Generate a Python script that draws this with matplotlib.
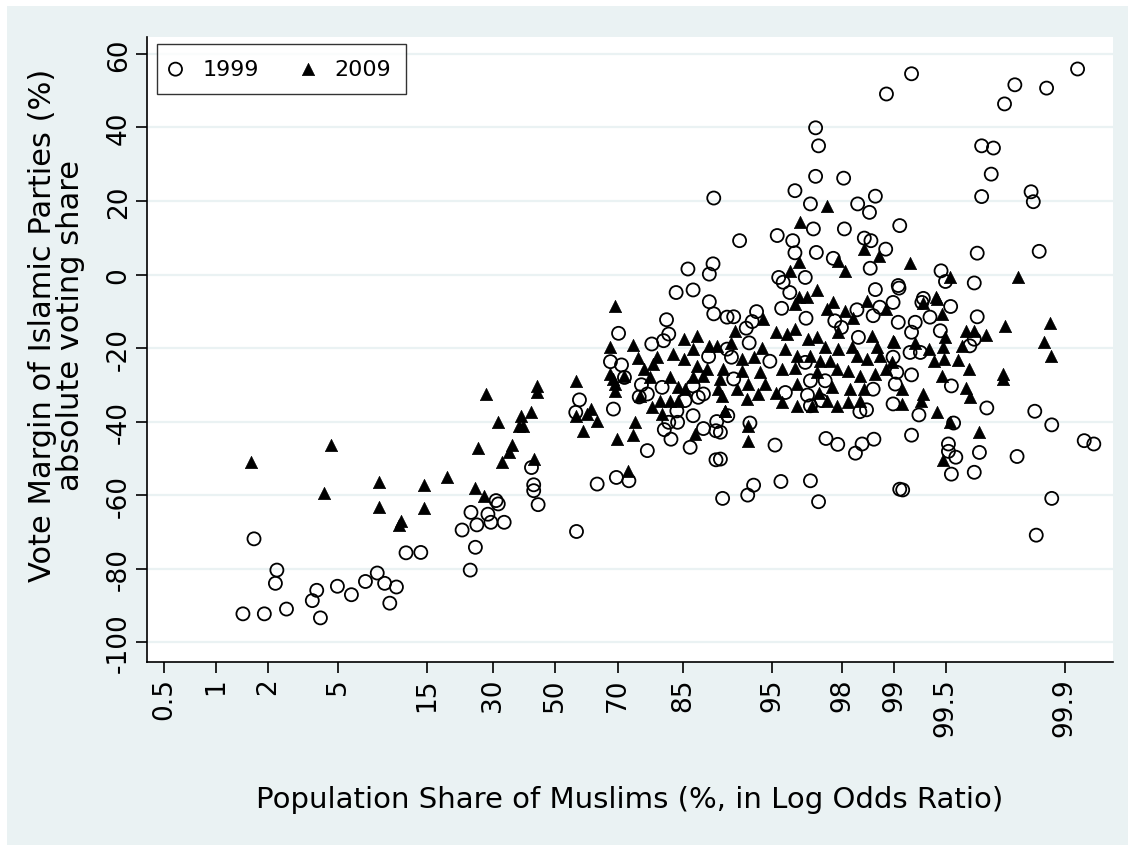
import numpy as np
import matplotlib
matplotlib.use("Agg")
import matplotlib.pyplot as plt
from matplotlib.patches import Rectangle

# tick positions: population share (%) shown on a log-odds axis
tick_pct = [0.5, 1, 2, 5, 15, 30, 50, 70, 85, 95, 98, 99, 99.5, 99.9]
tick_lab = ["0.5", "1", "2", "5", "15", "30", "50", "70", "85", "95", "98", "99", "99.5", "99.9"]
y_ticks = [-100, -80, -60, -40, -20, 0, 20, 40, 60]

# 1999 (log odds of muslim share, vote margin %)
x1999 = [-4.08, -3.77, -3.79, -4.23, -3.94, -3.64, -3.23, -3.29, -3.18, -2.95, -2.76, -2.57,
         -2.41, -2.31, -2.15, -2.24, -2.02, -1.82, -1.26, -1.14, -1.06, -1.08, -1.15, -0.91,
         -0.87, -0.69, -0.80, -0.77, -0.32, -0.29, -0.29, -0.23,
         0.33, 0.28, 0.79, 0.86, 0.75, 0.90, 0.94, 1.17, 1.14, 1.25, 1.51, 1.64, 1.87, 2.09,
         2.15, 2.09, 1.31, 1.47, 1.54, 1.45, 1.76, 1.87, 1.94, 2.01, 1.65, 1.66, 1.54, 1.48,
         1.57, 1.87, 1.83, 2.01, 2.18, 2.19, 1.25, 2.18, 2.27, 0.57, 0.83, 1.00, 2.33, 2.33,
         2.08, 0.29, 2.15, 1.80, 2.14,
         4.49, 3.53, 3.57, 3.53, 3.91, 3.25, 3.46, 4.10, 4.34, 4.26, 3.50, 3.92, 2.50, 3.01,
         3.22, 3.25, 3.54, 3.77, 4.19, 4.28, 4.48, 4.27, 3.03, 3.39, 4.67,
         3.09, 3.18, 4.34, 4.58, 4.40, 4.31, 4.09, 4.65, 3.07, 3.40, 2.42, 2.73, 2.67, 2.59,
         3.79, 3.88, 4.65, 4.11, 2.63, 2.39, 2.91, 4.58, 4.63, 3.39, 3.46, 3.66, 4.61, 4.31,
         2.42, 3.12, 3.42, 3.61, 4.58, 4.13, 4.22, 3.46, 2.34, 2.24, 2.64, 2.98, 3.67, 3.83,
         4.07, 4.16, 4.32, 2.24, 2.69, 2.61, 3.06, 3.46, 3.57, 4.67,
         4.83, 6.23, 6.09, 6.66, 7.08, 5.78, 5.94, 5.91, 5.78, 6.45, 6.48, 5.72, 6.56, 5.23,
         5.29, 5.68, 4.66, 4.99,
         4.97, 5.36, 5.72, 4.88, 4.83, 5.08, 5.22, 5.68, 5.62, 4.81, 4.95, 4.83, 5.37, 4.93,
         5.85, 4.83, 5.40, 5.33, 5.33, 5.43, 5.37, 5.68, 5.75, 6.26, 6.50, 6.73, 7.17, 7.30,
         4.71, 6.73, 6.52]
y1999 = [-71.9, -80.4, -84.0, -92.3, -92.3, -91.0, -85.9, -88.7, -93.4, -84.8, -87.1, -83.5,
         -81.2, -84.0, -85.0, -89.4, -75.7, -75.6, -69.5, -64.7, -68.1, -74.2, -80.4, -65.2,
         -67.4, -67.4, -61.5, -62.4, -52.5, -57.2, -58.8, -62.6,
         -34.1, -37.5, -36.6, -16.0, -23.7, -24.6, -28.0, -30.0, -33.3, -32.5, -12.3, -4.9,
         -4.2, -7.4, -10.7, 0.1, -18.9, -18.0, -16.2, -30.7, -34.3, -30.3, -33.4, -32.5,
         -37.1, -40.2, -40.2, -42.2, -44.8, -38.4, -47.0, -41.9, -42.5, -40.0, -47.9, -50.4,
         -60.9, -57.0, -55.2, -56.1, -20.3, -11.6, -22.3, -69.9, 20.8, 1.5, 2.9,
         49.1, 39.9, 35.0, 26.7, 26.2, 22.8, 19.2, 19.2, 21.3, 16.9, 12.4, 12.4, 9.2, 10.6,
         9.2, 5.9, 6.0, 4.4, 9.9, 9.2, 6.9, 1.7, -0.8, -0.8, 13.3,
         -2.1, -4.9, -4.1, -7.6, -8.9, -11.2, -9.6, -3.0, -9.2, -11.9, -11.5, -10.1, -12.8,
         -14.6, -12.6, -14.4, -13.0, -17.1, -18.6, -22.5, -23.6, -22.5, -26.6, -23.9, -28.9,
         -28.9, -29.8, -31.2, -28.4, -32.1, -32.8, -34.3, -35.2, -37.3, -36.8, -35.7, -38.4,
         -42.9, -40.4, -46.4, -44.6, -46.2, -48.6, -46.1, -44.8, -50.2, -57.3, -60.0, -56.3,
         -56.1, -61.8, -58.4,
         54.6, 51.6, 46.4, 50.7, 55.9, 35.0, 34.4, 27.3, 21.2, 22.5, 19.8, 5.8, 6.3, 1.0,
         -1.9, -2.3, -3.7, -6.5,
         -7.6, -8.7, -11.5, -13.0, -15.7, -11.6, -15.3, -17.6, -19.4, -21.2, -21.2, -27.3,
         -30.3, -38.2, -36.3, -43.7, -40.4, -46.1, -48.1, -49.7, -54.3, -53.8, -48.4, -49.5,
         -37.2, -40.9, -45.2, -46.1, -58.6, -60.9, -70.9]

# 2009
x2009 = [-4.12, -3.04, -3.13, -2.39, -2.39, -1.78, -1.78, -2.09, -2.12, -1.46, -1.04, -1.09,
         -0.97, -0.72, -0.62, -0.59, -0.29,
         -0.93, -0.78, -0.46, -0.32, -0.43, -0.49, -0.25, -0.24, 0.29, 0.28, 0.48, 0.43, 0.57,
         0.38, 0.81, 0.75, 1.06, 1.13, 1.38, 1.33, 1.20, 0.75, 0.81, 0.81, 0.79, 0.93, 1.29,
         1.15, 1.31, 1.45, 1.56, 1.67, 1.42, 1.56, 1.66, 1.08, 1.05, 0.84, 0.99, 1.74, 1.92,
         1.60, 1.87, 2.08, 2.19, 1.74, 1.92, 2.06, 2.24, 1.87, 2.01, 2.21, 1.90, 2.30, 1.76,
         3.69, 3.32, 4.19, 4.39, 3.30, 3.84, 3.93, 3.18,
         3.55, 3.41, 3.30, 3.25, 3.77, 3.68, 3.93, 4.22, 4.49, 4.04, 3.84, 2.82, 2.44, 3.00,
         3.14, 3.25, 3.43, 3.55, 3.66, 3.84, 4.02, 4.29, 4.36, 4.58, 2.39, 2.80, 2.69, 2.53,
         3.12, 3.28, 3.46, 3.59, 3.73, 4.09, 4.22, 4.40, 4.56, 2.28, 2.53, 2.78, 3.07, 3.25,
         3.55, 3.82, 3.97, 4.13, 4.34, 4.49, 2.46, 2.62, 2.85, 2.60, 2.75, 3.00, 3.28, 3.57,
         3.75, 4.00, 4.18, 3.07, 3.28, 3.48, 3.68, 3.82, 3.97, 4.13, 2.30, 2.62, 2.61, 2.26,
         4.81, 5.35, 6.27, 5.16,
         5.17, 4.99, 5.24, 6.10, 6.71, 6.62, 6.72, 5.57, 5.67, 5.84, 5.28, 5.51, 5.26, 4.59,
         4.88, 5.06, 5.13, 5.27, 5.46, 5.61, 5.24, 6.07, 6.07, 5.57, 5.62, 4.99, 4.96, 4.70,
         4.70, 5.17, 5.35, 5.74, 5.26]
y2009 = [-51.1, -46.4, -59.5, -56.5, -63.2, -57.2, -63.6, -67.0, -68.2, -55.2, -47.3, -58.1,
         -60.2, -50.9, -48.4, -46.4, -50.2,
         -32.5, -40.0, -38.4, -37.5, -41.1, -41.1, -30.4, -31.9, -29.1, -38.4, -36.6, -38.0,
         -39.8, -42.5, -8.7, -19.8, -19.2, -22.8, -22.5, -24.4, -25.7, -27.1, -29.8, -31.6,
         -28.4, -27.5, -28.0, -33.0, -36.1, -38.0, -28.0, -30.7, -34.3, -34.3, -34.3, -40.2,
         -43.6, -44.8, -53.4, -17.6, -16.7, -21.6, -20.3, -19.4, -19.4, -23.0, -24.8, -25.7,
         -28.4, -28.0, -27.5, -31.2, -43.4, -37.1, -31.2,
         18.6, 14.2, 6.9, 5.1, 3.3, 3.8, 1.0, 1.0,
         -4.1, -6.2, -6.2, -8.0, -7.6, -9.4, -9.8, -7.1, -9.4, -11.9, -15.7, -12.1, -15.3,
         -15.7, -16.2, -14.8, -17.6, -17.1, -19.8, -20.3, -19.8, -16.7, -19.8, -18.0, -18.5,
         -20.1, -22.5, -23.0, -20.3, -22.1, -22.1, -23.5, -23.5, -22.1, -23.0, -22.1, -23.9,
         -25.7, -26.2, -26.6, -25.7, -25.3, -26.6, -25.7, -26.2, -27.5, -27.1, -25.7, -31.2,
         -29.8, -29.8, -33.9, -32.5, -32.1, -29.8, -32.1, -30.7, -31.2, -31.2, -34.8, -35.7,
         -35.7, -34.3, -35.7, -34.8, -34.3, -37.1, -41.1, -45.2, -33.0,
         3.0, -0.6, -0.6, -6.2,
         -6.7, -7.8, -10.7, -13.9, -13.2, -18.3, -22.1, -15.3, -15.3, -16.4, -17.1, -19.4,
         -19.8, -18.3, -18.5, -20.3, -23.5, -23.0, -23.2, -25.7, -27.7, -27.1, -28.3, -31.0,
         -33.2, -32.5, -34.3, -31.2, -35.2, -37.3, -40.0, -42.8, -50.4]

bg = "#EAF2F3"

fig = plt.figure(figsize=(11.35, 8.53), dpi=100, facecolor="white")
fig.patches.append(Rectangle((7 / 1135, 7 / 853), 1121 / 1135, 839 / 853,
                             transform=fig.transFigure, facecolor=bg, edgecolor="none", zorder=-10))
ax = fig.add_axes([147 / 1135, 1 - 663 / 853, 966 / 1135, 625 / 853])
ax.set_facecolor("white")

ax.scatter(x1999, y1999, s=88, marker="o", facecolors="none", edgecolors="black",
           linewidths=1.3, label="1999", zorder=3)
ax.scatter(x2009, y2009, s=78, marker="^", facecolors="black", edgecolors="black",
           linewidths=0.5, label="2009", zorder=4)

logit = [np.log(p / (100 - p)) for p in tick_pct]
ax.set_xticks(logit)
ax.set_xticklabels(tick_lab, rotation=90, va="top", ha="center", fontsize=19)
ax.set_yticks(y_ticks)
ax.set_yticklabels([str(v) for v in y_ticks], rotation=90, va="center", ha="right", fontsize=19)
ax.set_xlim(-5.53, 7.56)
ax.set_ylim(-105.4, 64.6)

ax.grid(axis="y", color=bg, linewidth=1.6, zorder=0)
ax.set_axisbelow(True)
for s in ["top", "right"]:
    ax.spines[s].set_visible(False)
for s in ["left", "bottom"]:
    ax.spines[s].set_linewidth(1.2)
ax.tick_params(axis="both", length=8, width=1.2, pad=3)

ax.set_xlabel("Population Share of Muslims (%, in Log Odds Ratio)", fontsize=21, va="center")
ax.xaxis.set_label_coords(0.5, -0.219)
ax.set_ylabel("Vote Margin of Islamic Parties (%)\nabsolute voting share", fontsize=22,
              va="center", linespacing=0.95)
ax.yaxis.set_label_coords(-0.094, 0.54)

leg = ax.legend(loc="upper left", ncol=2, fontsize=16, frameon=True, fancybox=False,
                borderpad=0.68, handletextpad=1.05, columnspacing=2.05, handlelength=0.3,
                borderaxespad=0, bbox_to_anchor=(0.0104, 0.989))
leg.get_frame().set_edgecolor("black")
leg.get_frame().set_linewidth(1.0)

fig.savefig("out.png", dpi=100)
